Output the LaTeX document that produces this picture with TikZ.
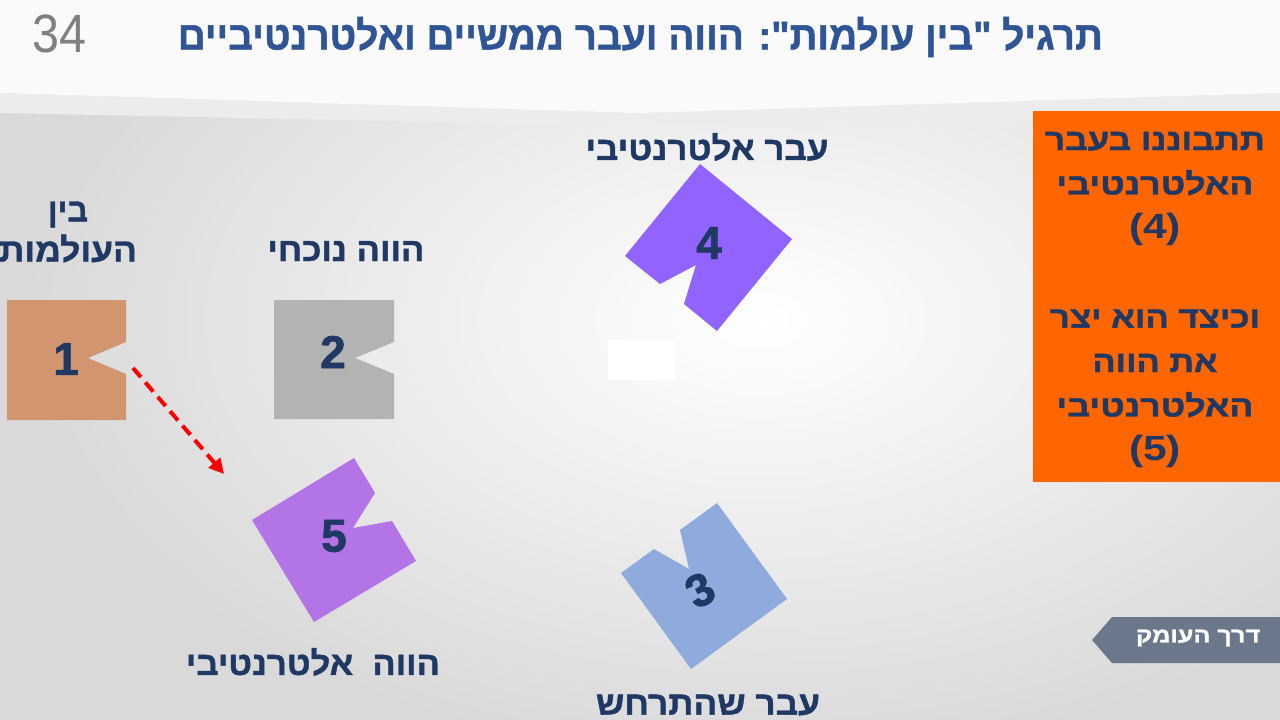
\documentclass[tikz,border=0pt]{standalone}
\usepackage{fontspec}
\usepackage{graphicx}
\setmainfont{Liberation Sans}
\newfontfamily\hebfont[Script=Hebrew, BoldFeatures={FakeBold=1.2}]{Liberation Sans}
\newfontfamily\digfont[BoldFeatures={FakeBold=1.5}]{Liberation Sans}
\TeXXeTstate=1
\usetikzlibrary{arrows.meta}
\definecolor{navy}{HTML}{203864}
\definecolor{titleblue}{HTML}{2F5597}
\definecolor{bgg}{HTML}{D9D9D9}
\definecolor{hdr}{HTML}{FAFAFA}
\definecolor{band}{HTML}{ECECEC}
\definecolor{cone}{HTML}{D19570}
\definecolor{ctwo}{HTML}{B3B3B3}
\definecolor{cthree}{HTML}{8FAADC}
\definecolor{cfour}{HTML}{9163FF}
\definecolor{cfive}{HTML}{B374E6}
\definecolor{corange}{HTML}{FF6600}
\definecolor{ctag}{HTML}{6B778A}
\newcommand\heb[1]{{\hebfont\beginR #1\endR}}
\newcommand\fitw[2]{\resizebox{#1}{\height}{#2}}
\tikzset{
  lbl/.style={inner sep=0pt, text=navy, font=\fontsize{33}{40}\selectfont\bfseries, align=center},
  digit/.style={inner sep=0pt, text=navy, font=\digfont\fontsize{46}{46}\selectfont\bfseries},
  piece/.style={draw=none},
  boxtext/.style={inner sep=0pt, text=navy, font=\fontsize{30}{44.4}\selectfont\bfseries, align=center},
}
\begin{document}
\begin{tikzpicture}[x=1pt,y=-1pt]
\useasboundingbox (0,0) rectangle (1280,720);
% background
\fill[bgg] (0,0) rectangle (1280,720);
\begin{scope}
\clip (0,0) rectangle (1280,720);
\shade[inner color=white, outer color=bgg] (760,320) ellipse [x radius=740, y radius=440];
\end{scope}
\fill[band] (0,93) -- (637,113) -- (1280,93) -- (1280,119) -- (637,126) -- (0,113) -- cycle;
\fill[hdr] (0,0) -- (1280,0) -- (1280,93) -- (637,113) -- (0,93) -- cycle;
\fill[white] (608,340) rectangle (675,380);
% title
\node[inner sep=0pt, anchor=east, text=titleblue, font=\fontsize{40}{44}\selectfont\bfseries] (title) at (1103,37)
  {\fitw{925pt}{\heb{תרגיל "בין עולמות": הווה ועבר ממשיים ואלטרנטיביים}}};
\node[inner sep=0pt, text=gray, font=\fontsize{54}{54}\selectfont] (pagenum) at (60,34) {\resizebox{54pt}{\height}{34}};
% pieces
\fill[cone, piece] (7,300) -- (126,300) -- (126,342) -- (88,358) -- (126,374) -- (126,420) -- (7,420) -- cycle;
\fill[ctwo, piece] (274,300) -- (394,300) -- (394,342) -- (355,358) -- (394,374) -- (394,419) -- (274,419) -- cycle;
\fill[cfour, piece] (700,164) -- (792,239) -- (717,331) -- (684,304) -- (696,265) -- (660,284) -- (625,256) -- cycle;
\fill[cthree, piece] (717,503) -- (787,599) -- (691,669) -- (621,573) -- (654,549) -- (689,569) -- (680,530) -- cycle;
\fill[cfive, piece] (354,458) -- (375,493) -- (353,528) -- (392,521) -- (416,561) -- (314,622) -- (252,520) -- cycle;
% digits
\node[digit] (d1) at (66,359) {1};
\node[digit] (d2) at (333,352) {2};
\node[digit] (d4) at (709,243) {4};
\node[digit, rotate=28] (d3) at (700,590) {3};
\node[digit] (d5) at (334,536) {5};
% labels
\node[lbl] (lbein) at (68,232) {\fitw{40pt}{\heb{בין}}\\\fitw{138pt}{\heb{העולמות}}};
\node[lbl] (lcur) at (346,251) {\fitw{157pt}{\heb{הווה נוכחי}}};
\node[lbl] (lpalt) at (707,147) {\fitw{243pt}{\heb{עבר אלטרנטיבי}}};
\node[lbl] (lcalt) at (313,662) {\fitw{254pt}{\heb{הווה ~אלטרנטיבי}}};
\node[lbl] (lpast) at (708,705) {\fitw{224pt}{\heb{עבר שהתרחש}}};
% arrow
\coordinate (arrS) at (133,368);
\coordinate (arrE) at (224,474);
\draw[red, line width=4pt, dash pattern=on 12pt off 7pt, -{Triangle[length=15pt,width=15pt]}] (arrS) -- (arrE);
% orange box
\fill[corange] (1033,111) rectangle (1280,482);
\node[boxtext] (boxtxt) at (1155,300) {\fitw{220pt}{\heb{תתבוננו בעבר}}\\\fitw{197pt}{\heb{האלטרנטיבי}}\\{\fontsize{35}{44.4}\selectfont\fitw{52pt}{(4)}}\\ \\\fitw{210pt}{\heb{וכיצד הוא יצר}}\\\fitw{125pt}{\heb{את הווה}}\\\fitw{197pt}{\heb{האלטרנטיבי}}\\{\fontsize{35}{44.4}\selectfont\fitw{52pt}{(5)}}};
% tag
\fill[ctag] (1092,640) -- (1112,617) -- (1280,617) -- (1280,663) -- (1112,663) -- cycle;
\node[inner sep=0pt, text=white, font=\fontsize{21}{21}\selectfont\bfseries] (tag) at (1198,638) {\fitw{124pt}{\heb{דרך העומק}}};
\end{tikzpicture}
\end{document}
